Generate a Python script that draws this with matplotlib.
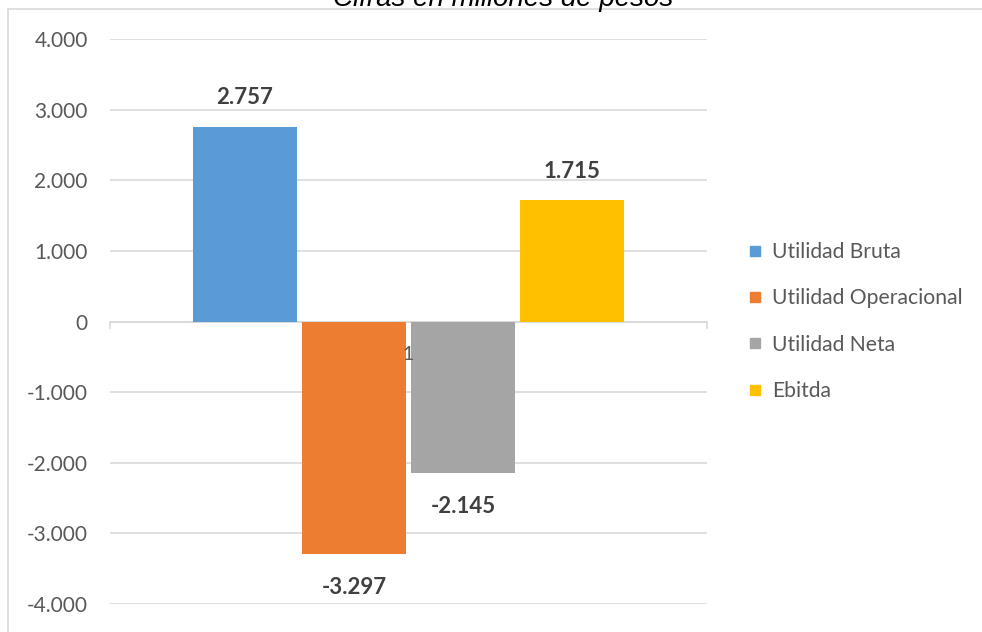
import matplotlib.pyplot as plt
from matplotlib.lines import Line2D
from matplotlib.patches import Rectangle

series = ['Utilidad Bruta', 'Utilidad Operacional', 'Utilidad Neta', 'Ebitda']
values = [2757, -3297, -2145, 1715]
colors = ['#5B9BD5', '#ED7D31', '#A5A5A5', '#FFC000']
category = '1'
title = 'Cifras en millones de pesos'

plt.rcParams['font.family'] = ['Lato', 'DejaVu Sans']

fig = plt.figure(figsize=(9.82, 6.32), dpi=100)
W, H = 982, 632
ax = fig.add_axes([110 / W, (H - 604) / H, (707 - 110) / W, (604 - 39) / H])

# outer chart border (cropped at top/right like the source)
fig.patches.append(Rectangle((8 / W, -0.05), 1.0, (H - 9) / H + 0.05,
                             transform=fig.transFigure, fill=False,
                             edgecolor='#D9D9D9', linewidth=1.2))
fig.text(503 / W, (H - 6) / H, title, ha='center', va='baseline',
         fontsize=20, style='italic', color='#000000',
         family=['Liberation Sans', 'DejaVu Sans'])

step = 109 / 597
width = 104 / 597
for i, (name, v, c) in enumerate(zip(series, values, colors)):
    x = 1 + (i - 1.5) * step
    ax.bar(x, v, width=width, color=c, zorder=3)
    lbl = f'{v / 1000:.3f}'
    off = 21 if v > 0 else -24
    ax.annotate(lbl, (x, v), xytext=(0, off), textcoords='offset points',
                ha='center', va='center', fontsize=16, fontweight='bold',
                color='#404040')

ax.set_xlim(0.5, 1.5)
ax.set_ylim(-4000, 4000)
ticks = list(range(-4000, 4001, 1000))
ax.set_yticks(ticks)
ax.set_yticklabels([f'{t / 1000:.3f}' if t != 0 else '0' for t in ticks])
ax.tick_params(axis='y', length=0, pad=16, labelsize=15, labelcolor='#595959')
ax.set_xticks([])
ax.grid(axis='y', color='#D9D9D9', linewidth=1.2, zorder=0)
for s in ax.spines.values():
    s.set_visible(False)
ax.axhline(0, color='#D9D9D9', linewidth=1.2, zorder=2)
for xe in (0.5, 1.5):
    ax.plot([xe, xe], [0, -90], color='#D9D9D9', linewidth=1.2,
            clip_on=False, zorder=2)
ax.annotate(category, (1, 0), xytext=(0, -24), textcoords='offset points',
            ha='center', va='center', fontsize=14, color='#595959', zorder=5)

handles = [Line2D([], [], marker='s', linestyle='none', markersize=7,
                  color=c) for c in colors]
fig.legend(handles, series, loc='center left',
           bbox_to_anchor=(728 / W, (H - 321.5) / H), frameon=False,
           fontsize=15.2, labelcolor='#595959', handlelength=0.8,
           handletextpad=0.4, labelspacing=1.25)

fig.savefig('out.png', dpi=100)
